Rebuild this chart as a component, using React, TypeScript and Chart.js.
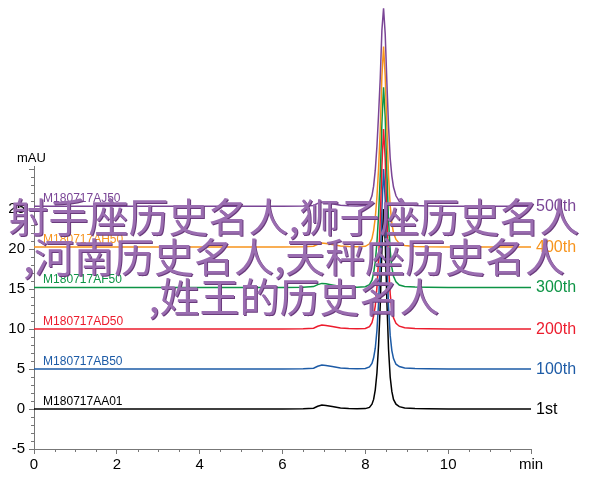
import React, { useEffect, useRef } from "react";
import { Chart, registerables } from "chart.js";

Chart.register(...registerables);

// retention times (min)
const times = [0, 0.5, 1, 1.5, 2, 2.5, 3, 3.5, 4, 4.5, 5, 5.5, 6, 6.5, 6.75, 6.85, 6.95, 7.05, 7.2, 7.4, 7.6, 7.8, 8.0, 8.1, 8.16, 8.2, 8.24, 8.28, 8.32, 8.36, 8.4, 8.44, 8.48, 8.52, 8.56, 8.6, 8.64, 8.68, 8.74, 8.82, 8.95, 9.2, 9.5, 10, 10.5, 11, 11.5, 12];

// absorbance (mAU), each trace offset on the plot as in the original
const seriesAA01 = [0, 0, 0, 0, 0, 0, 0, 0, 0, 0, 0, 0, 0, 0.02, 0.1, 0.35, 0.5, 0.45, 0.3, 0.12, 0.05, 0.03, 0.05, 0.2, 0.6, 1.2, 2.4, 4.5, 8, 13, 20, 25, 21, 13.5, 7.5, 4, 2.2, 1.2, 0.6, 0.3, 0.12, 0.05, 0.02, 0, 0, 0, 0, 0];
const seriesAB50 = [5, 5, 5, 5, 5, 5, 5, 5, 5, 5, 5, 5, 5, 5.02, 5.1, 5.35, 5.5, 5.45, 5.3, 5.12, 5.05, 5.03, 5.06, 5.25, 5.7, 6.4, 7.6, 9.8, 13.3, 18.3, 25, 30, 26.2, 18.8, 12.8, 9.2, 7.3, 6.3, 5.6, 5.3, 5.13, 5.05, 5.02, 5, 5, 5, 5, 5];
const seriesAD50 = [10, 10, 10, 10, 10, 10, 10, 10, 10, 10, 10, 10, 10, 10.02, 10.1, 10.35, 10.5, 10.45, 10.3, 10.12, 10.05, 10.03, 10.07, 10.3, 10.8, 11.6, 12.9, 15.2, 18.7, 23.6, 30.4, 35, 31.3, 24.2, 18.1, 14.4, 12.4, 11.4, 10.7, 10.35, 10.15, 10.06, 10.02, 10, 10, 10, 10, 10];
const seriesAF50 = [15.2, 15.2, 15.2, 15.2, 15.2, 15.2, 15.2, 15.2, 15.2, 15.2, 15.2, 15.2, 15.2, 15.22, 15.3, 15.55, 15.7, 15.65, 15.5, 15.32, 15.25, 15.23, 15.28, 15.55, 16.1, 17.0, 18.4, 20.8, 24.3, 29.1, 35.8, 40.2, 36.5, 29.6, 23.6, 19.8, 17.7, 16.6, 15.9, 15.5, 15.32, 15.25, 15.22, 15.2, 15.2, 15.2, 15.2, 15.2];
const seriesAH50 = [20.25, 20.25, 20.25, 20.25, 20.25, 20.25, 20.25, 20.25, 20.25, 20.25, 20.25, 20.25, 20.25, 20.27, 20.35, 20.6, 20.75, 20.7, 20.55, 20.37, 20.3, 20.28, 20.34, 20.65, 21.3, 22.3, 23.9, 26.5, 30.1, 34.8, 41.6, 45.3, 41.6, 35.1, 29.2, 25.4, 23.2, 22.0, 21.2, 20.7, 20.43, 20.32, 20.27, 20.25, 20.25, 20.25, 20.25, 20.25];
const seriesAJ50 = [25.35, 25.35, 25.35, 25.35, 25.35, 25.35, 25.35, 25.35, 25.35, 25.35, 25.35, 25.35, 25.35, 25.37, 25.45, 25.7, 25.85, 25.8, 25.65, 25.47, 25.4, 25.38, 25.45, 25.85, 26.65, 27.85, 29.85, 32.85, 36.85, 41.35, 47.35, 50.1, 46.85, 40.85, 35.35, 31.35, 29.15, 27.75, 26.65, 25.95, 25.6, 25.43, 25.38, 25.35, 25.35, 25.35, 25.35, 25.35];

const traceNames = ["M180717AA01", "M180717AB50", "M180717AD50", "M180717AF50", "M180717AH50", "M180717AJ50"];
const injectionLabels = ["1st", "100th", "200th", "300th", "400th", "500th"];
const traceBaselines = [0, 5, 10, 15.2, 20.25, 25.35];
const traceColors = ["#000000", "#1d5ba6", "#ec1c2d", "#0d9445", "#f7941d", "#7a4596"];

const xTickValues = [0, 2, 4, 6, 8, 10, 12];
const yTickValues = [-5, 0, 5, 10, 15, 20, 25, 30];

const watermarkLines = ["射手座历史名人,狮子座历史名人", ",河南历史名人,天秤座历史名人", ",姓王的历史名人"];

const FONT = "'Liberation Sans', Arial, Helvetica, sans-serif";

const annotatePlugin = {
  id: "annotate",
  afterDraw(chart: any) {
    const ctx = chart.ctx;
    const xs = chart.scales.x;
    const ys = chart.scales.y;
    const area = chart.chartArea;
    ctx.save();
    ctx.strokeStyle = "#777";
    ctx.lineWidth = 1;
    // minor ticks x every 0.5
    for (let v = 0; v <= 12.001; v += 0.5) {
      const px = Math.round(xs.getPixelForValue(v)) + 0.5;
      const major = Math.abs(v / 2 - Math.round(v / 2)) < 1e-6;
      if (major) continue;
      ctx.beginPath();
      ctx.moveTo(px, area.bottom);
      ctx.lineTo(px, area.bottom + 3);
      ctx.stroke();
    }
    // minor ticks y every 1
    for (let v = -5; v <= 30.001; v += 1) {
      if (Math.abs(v / 5 - Math.round(v / 5)) < 1e-6) continue;
      const py = Math.round(ys.getPixelForValue(v)) + 0.5;
      ctx.beginPath();
      ctx.moveTo(area.left, py);
      ctx.lineTo(area.left - 3, py);
      ctx.stroke();
    }
    // mAU label
    ctx.fillStyle = "#000";
    ctx.font = `13px ${FONT}`;
    ctx.textAlign = "left";
    ctx.textBaseline = "middle";
    ctx.fillText("mAU", 17, area.top - 8);
    // trace labels
    for (let i = 0; i < traceNames.length; i++) {
      const y = ys.getPixelForValue(traceBaselines[i]);
      ctx.fillStyle = traceColors[i];
      ctx.font = `12px ${FONT}`;
      ctx.textAlign = "left";
      ctx.textBaseline = "alphabetic";
      ctx.fillText(traceNames[i], xs.getPixelForValue(0.22), y - 4);
      ctx.font = `16px ${FONT}`;
      ctx.textBaseline = "middle";
      ctx.fillText(injectionLabels[i], area.right + 5, y + 0.5);
    }
    ctx.restore();
  },
};

export default function App() {
  const ref = useRef<HTMLCanvasElement>(null);
  useEffect(() => {
    if (!ref.current) return;
    const allSeries = [seriesAA01, seriesAB50, seriesAD50, seriesAF50, seriesAH50, seriesAJ50];
    const datasets = allSeries.map((s, i) => ({
      label: traceNames[i],
      data: s.map((v, j) => ({ x: times[j], y: v })),
      borderColor: traceColors[i],
      borderWidth: 1.5,
      pointRadius: 0,
      tension: 0,
      fill: false,
      clip: false as any,
    }));
    const chart = new Chart(ref.current, {
      type: "line",
      data: { datasets: datasets.reverse() },
      options: {
        animation: false,
        responsive: false,
        layout: { padding: { left: 0, right: 69, top: 166, bottom: 0 } },
        plugins: { legend: { display: false }, tooltip: { enabled: false } },
        scales: {
          x: {
            type: "linear",
            min: 0,
            max: 12,
            afterBuildTicks: (s: any) => {
              s.ticks = xTickValues.map((v) => ({ value: v }));
            },
            afterFit: (s: any) => {
              s.height = 55;
            },
            ticks: {
              callback: (v: any) => (v === 12 ? "min" : String(v)),
              font: { size: 15, family: FONT },
              color: "#000",
              padding: 2,
              maxRotation: 0,
              autoSkip: false,
            },
            grid: { display: true, drawOnChartArea: false, drawTicks: true, tickLength: 5, color: "#777" },
            border: { display: true, color: "#777", width: 1 },
          },
          y: {
            type: "linear",
            min: -5,
            max: 30.375,
            afterBuildTicks: (s: any) => {
              s.ticks = yTickValues.map((v) => ({ value: v }));
            },
            afterFit: (s: any) => {
              s.width = 34;
            },
            ticks: {
              callback: (v: any) => (v === 30 ? "" : String(v)),
              font: { size: 15, family: FONT },
              color: "#000",
              padding: 4,
              autoSkip: false,
            },
            grid: { display: true, drawOnChartArea: false, drawTicks: true, tickLength: 5, color: "#777" },
            border: { display: true, color: "#777", width: 1 },
          },
        },
      },
      plugins: [annotatePlugin],
    });
    return () => chart.destroy();
  }, []);

  return (
    <div style={{ position: "absolute", left: 0, top: 0, width: 600, height: 504, background: "#fff" }}>
      <canvas ref={ref} width={600} height={504} style={{ position: "absolute", left: 0, top: 0 }} />
      <div
        style={{
          position: "absolute",
          left: -6,
          top: 195,
          width: 600,
          textAlign: "center",
          fontFamily: "'Noto Sans CJK SC', sans-serif",
          fontSize: 40,
          lineHeight: "40px",
          color: "#9a6db0",
          textShadow: "1px 1px 0 #6a3a7c",
          whiteSpace: "nowrap",
          pointerEvents: "none",
        }}
      >
        {watermarkLines.map((l, i) => (
          <div key={i}>{l}</div>
        ))}
      </div>
    </div>
  );
}
